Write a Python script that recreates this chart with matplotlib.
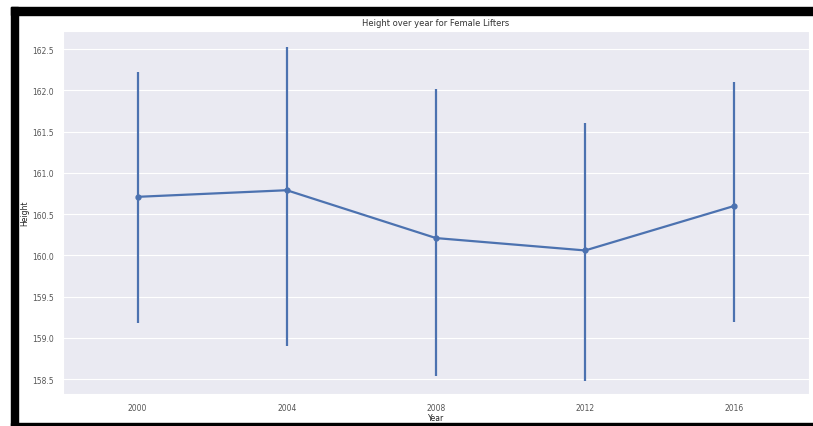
import numpy as np
import matplotlib
matplotlib.use("Agg")
import matplotlib.pyplot as plt
import seaborn as sns
from matplotlib.patches import Rectangle

sns.set_style("darkgrid")

## Data
years = ["2000", "2004", "2008", "2012", "2016"]
mean_height = [160.71, 160.79, 160.21, 160.06, 160.60]
ci_low = [159.18, 158.90, 158.54, 158.48, 159.19]
ci_high = [162.22, 162.53, 162.02, 161.61, 162.10]

blue = "#4c72b0"

fig = plt.figure(figsize=(8.13, 4.27), dpi=100)
fig.patch.set_facecolor("white")
ax = fig.add_axes([0.0775, 0.075, 0.9175, 0.850])

## CI bars + mean line (pointplot look)
ax.vlines(years, ci_low, ci_high, color=blue, lw=1.6)
ax.plot(years, mean_height, "-o", color=blue, lw=1.6, ms=3.5)

ax.set_xlim(-0.5, 4.5)
ax.set_ylim(158.32, 162.72)
ax.set_yticks(np.arange(158.5, 162.51, 0.5))
ax.xaxis.grid(False)
ax.tick_params(labelsize=5.5, colors="#555555", pad=3)

ax.set_title("Height over year for Female Lifters", fontsize=6, color="#333333", pad=4)
ax.set_xlabel("Year", fontsize=5.5, color="#222222", labelpad=1)
ax.set_ylabel("Height", fontsize=5.5, color="#222222", labelpad=2)

## black frame around the screenshot
fig.patches.append(Rectangle((11 / 813, 1 - 16 / 427), 1 - 11 / 813, 8 / 427,
                             transform=fig.transFigure, color="black", zorder=10))
fig.patches.append(Rectangle((11 / 813, 0), 7 / 813, 1 - 8 / 427,
                             transform=fig.transFigure, color="black", zorder=10))
fig.patches.append(Rectangle((11 / 813, 0), 1 - 11 / 813, 3 / 427,
                             transform=fig.transFigure, color="black", zorder=10))

fig.savefig("out.png", dpi=100)
